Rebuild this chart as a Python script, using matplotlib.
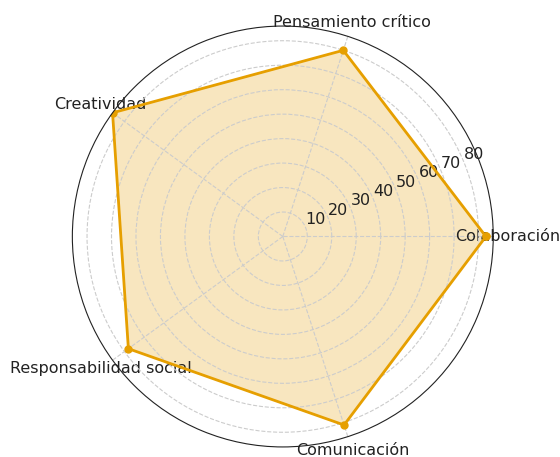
import numpy as np
import matplotlib.pyplot as plt

# Datos
categorias = ['Colaboración', 'Pensamiento crítico', 'Creatividad',
              'Responsabilidad social', 'Comunicación']
valores = [83, 80, 86, 78, 81]

angulos = np.linspace(0, 2 * np.pi, len(categorias), endpoint=False)
ang_cerrado = np.concatenate([angulos, angulos[:1]])
val_cerrado = valores + valores[:1]

fig = plt.figure(figsize=(5.6, 4.57), dpi=100)
ax = fig.add_axes([0.129, 0.022, 0.752, 0.921], polar=True)

color = '#E69F00'
ax.plot(ang_cerrado, val_cerrado, color=color, linewidth=2, marker='o', markersize=5)
ax.fill(ang_cerrado, val_cerrado, color=color, alpha=0.25)

ax.set_xticks(angulos)
ax.set_xticklabels(categorias, fontsize=11.5, color='#222222')
ax.tick_params(axis='x', pad=0)
ax.set_yticks([10, 20, 30, 40, 50, 60, 70, 80])
ax.set_yticklabels(['10', '20', '30', '40', '50', '60', '70', '80'], fontsize=11.5, color='#222222')
ax.set_ylim(0, max(valores))
ax.grid(color='#cccccc', linestyle='--', linewidth=0.8)
ax.spines['polar'].set_color('#222222')

plt.savefig('out.png', dpi=100)
